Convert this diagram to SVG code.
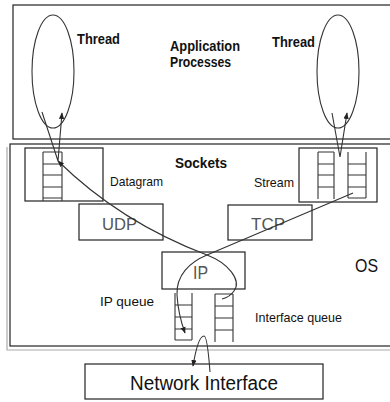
<svg xmlns="http://www.w3.org/2000/svg" width="390" height="402" viewBox="0 0 390 402">
<style>
.box{fill:none;stroke:#222;stroke-width:1.2}
.q{fill:none;stroke:#333;stroke-width:1.1}
.ell{fill:none;stroke:#333;stroke-width:1.1}
.con{fill:none;stroke:#333;stroke-width:1.1}
.t{font-family:"Liberation Sans",Arial,sans-serif;fill:#111}
.b{font-weight:bold}
.g{fill:#555}
</style>
<defs>
<marker id="arr" viewBox="0 0 10 10" refX="9" refY="5" markerWidth="6" markerHeight="6" orient="auto"><path d="M0,1 L10,5 L0,9 z" fill="#222"/></marker>
</defs>
<rect width="390" height="402" fill="#fff"/>

<g id="application-processes">
<rect class="box" x="13" y="5" width="390" height="134"/>
<text class="t b" x="170" y="51" font-size="14" textLength="70" lengthAdjust="spacingAndGlyphs">Application</text>
<text class="t b" x="170" y="67" font-size="14" textLength="61" lengthAdjust="spacingAndGlyphs">Processes</text>
</g>

<g id="os">
<polyline points="7,147 7,350 395,350" fill="none" stroke="#aaa" stroke-width="1.2"/>
<rect class="box" x="10" y="144" width="390" height="202"/>
<text class="t" x="355" y="272" font-size="19" textLength="23" lengthAdjust="spacingAndGlyphs">OS</text>
</g>

<g id="thread-left">
<ellipse class="ell" cx="53" cy="71.5" rx="21" ry="56.5"/>
<text class="t b" x="77" y="44" font-size="14" textLength="43" lengthAdjust="spacingAndGlyphs">Thread</text>
</g>

<g id="thread-right">
<ellipse class="ell" cx="338" cy="71.5" rx="21" ry="56.5"/>
<text class="t b" x="272" y="47" font-size="14" textLength="43" lengthAdjust="spacingAndGlyphs">Thread</text>
</g>

<g id="sockets-label">
<text class="t b" x="175" y="168" font-size="14" textLength="52" lengthAdjust="spacingAndGlyphs">Sockets</text>
</g>

<g id="datagram-socket">
<rect class="box" x="25" y="148" width="78" height="53"/>
<path class="q" d="M43,152 V201 M62,152 V201 M43,152 H62 M43,164 H62 M43,175 H62 M43,187 H62 M43,198 H62"/>
<text class="t" x="110" y="186" font-size="13" textLength="53" lengthAdjust="spacingAndGlyphs">Datagram</text>
</g>

<g id="stream-socket">
<rect class="box" x="299" y="148" width="78" height="54"/>
<path class="q" d="M318,152 V199 M334,152 V199 M318,152 H334 M318,164 H334 M318,175 H334 M318,187 H334"/>
<path class="q" d="M348,152 V198 M366,152 V198 M348,164 H366 M348,175 H366 M348,187 H366 M348,198 H366"/>
<text class="t" x="254" y="187" font-size="13" textLength="40" lengthAdjust="spacingAndGlyphs">Stream</text>
</g>

<g id="udp">
<rect class="box" x="79" y="204" width="84" height="36"/>
<text class="t g" x="102" y="230" font-size="16" textLength="35" lengthAdjust="spacingAndGlyphs">UDP</text>
</g>

<g id="tcp">
<rect class="box" x="228" y="205" width="84" height="35"/>
<text class="t g" x="251" y="230" font-size="16" textLength="34" lengthAdjust="spacingAndGlyphs">TCP</text>
</g>

<g id="ip">
<rect class="box" x="162" y="252" width="83" height="37"/>
<text class="t g" x="193" y="279" font-size="18" textLength="15" lengthAdjust="spacingAndGlyphs">IP</text>
</g>

<g id="ip-queue">
<path class="q" d="M175,293 V340 M192,293 V340 M175,305 H192 M175,317 H192 M175,329 H192 M175,340 H192"/>
<text class="t" x="100" y="306" font-size="13" textLength="54" lengthAdjust="spacingAndGlyphs">IP queue</text>
</g>

<g id="interface-queue">
<path class="q" d="M215,294 V342 M233,294 V342 M215,294 H233 M215,306 H233 M215,318 H233 M215,330 H233"/>
<text class="t" x="255" y="322" font-size="13" textLength="87" lengthAdjust="spacingAndGlyphs">Interface queue</text>
</g>

<g id="network-interface">
<rect class="box" x="85" y="364" width="238" height="35"/>
<text class="t" x="130" y="390" font-size="20" textLength="148" lengthAdjust="spacingAndGlyphs">Network Interface</text>
</g>

<g id="connectors">
<path class="con" d="M42,112 L58,161 L62,113" marker-end="url(#arr)"/>
<path class="con" d="M332,113 L340,157 L347,113" marker-end="url(#arr)"/>
<path class="con" d="M222,299 Q230,297 234,291 C242,280 228,263 207,255 Q120,222 58,161" marker-end="url(#arr)"/>
<path class="con" d="M353,193 L207,255 C190,262 176,275 177,295 C178,312 181,322 185,333" marker-end="url(#arr)"/>
<path class="con" d="M210,372 C208,345 206,336 204,336 C200,336 196,348 193,366" marker-end="url(#arr)"/>
</g>
</svg>
